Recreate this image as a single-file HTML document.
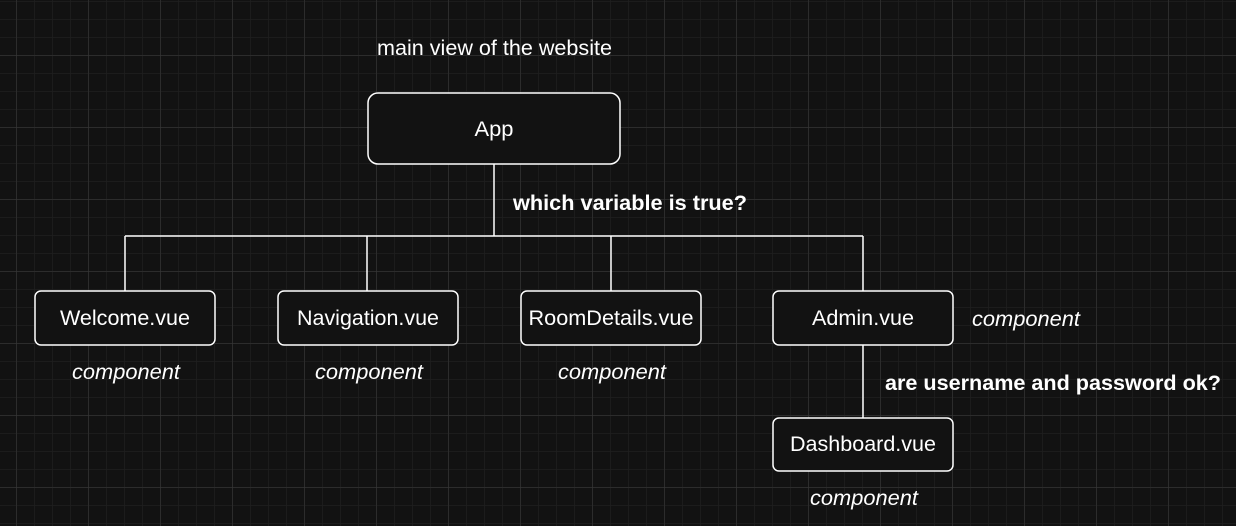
<!DOCTYPE html>
<html><head><style>
html,body{margin:0;padding:0;background:#121212;width:1236px;height:526px;overflow:hidden}
text{font-family:"Liberation Sans",Arial,sans-serif;fill:#fff}
</style></head><body>
<svg width="1236" height="526" xmlns="http://www.w3.org/2000/svg">
<defs>
<pattern id="minor" x="16" y="1" width="18" height="18" patternUnits="userSpaceOnUse">
<path d="M0 0H18M0 0V18" stroke="#1f1f1f" stroke-width="1.5" fill="none"/>
</pattern>
<pattern id="major" x="16.5" y="55.5" width="72" height="72" patternUnits="userSpaceOnUse">
<path d="M0 0H72M0 0V72" stroke="#3a3a3a" stroke-width="1" fill="none"/>
</pattern>
</defs>
<rect width="1236" height="526" fill="#121212"/>
<rect width="1236" height="526" fill="url(#minor)"/>
<rect width="1236" height="526" fill="url(#major)"/>
<g stroke="#fff" stroke-width="1.5" fill="none">
<path d="M494 164V236M125 236H863M125 236V291M367 236V291M611 236V291M863 236V291M863 345V418"/>
</g>
<g stroke="#fff" stroke-width="1.5" fill="#121212">
<rect x="368" y="93" width="252" height="71" rx="10"/>
<rect x="35" y="291" width="180" height="54" rx="6"/>
<rect x="278" y="291" width="180" height="54" rx="6"/>
<rect x="521" y="291" width="180" height="54" rx="6"/>
<rect x="773" y="291" width="180" height="54" rx="6"/>
<rect x="773" y="418" width="180" height="53" rx="6"/>
</g>
<g font-size="21" text-anchor="middle">
<text x="494" y="136" textLength="39" lengthAdjust="spacingAndGlyphs">App</text>
<text x="125" y="325" textLength="130" lengthAdjust="spacingAndGlyphs">Welcome.vue</text>
<text x="368" y="325" textLength="142" lengthAdjust="spacingAndGlyphs">Navigation.vue</text>
<text x="611" y="325" textLength="165" lengthAdjust="spacingAndGlyphs">RoomDetails.vue</text>
<text x="863" y="325" textLength="102" lengthAdjust="spacingAndGlyphs">Admin.vue</text>
<text x="863" y="451" textLength="146" lengthAdjust="spacingAndGlyphs">Dashboard.vue</text>
</g>
<text x="377" y="55" font-size="21" textLength="235" lengthAdjust="spacingAndGlyphs">main view of the website</text>
<g font-size="21" font-weight="bold">
<text x="513" y="210" textLength="234" lengthAdjust="spacingAndGlyphs">which variable is true?</text>
<text x="885" y="390" textLength="336" lengthAdjust="spacingAndGlyphs">are username and password ok?</text>
</g>
<g font-size="21" font-style="italic" text-anchor="middle">
<text x="126" y="379" textLength="108" lengthAdjust="spacingAndGlyphs">component</text>
<text x="369" y="379" textLength="108" lengthAdjust="spacingAndGlyphs">component</text>
<text x="612" y="379" textLength="108" lengthAdjust="spacingAndGlyphs">component</text>
<text x="1026" y="326" textLength="108" lengthAdjust="spacingAndGlyphs">component</text>
<text x="864" y="505" textLength="108" lengthAdjust="spacingAndGlyphs">component</text>
</g>
</svg>
</body></html>
